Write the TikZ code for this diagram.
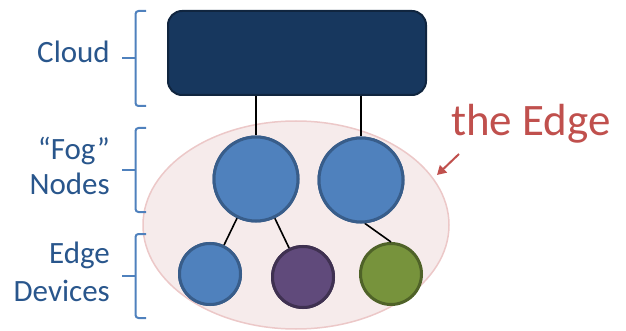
\documentclass[tikz,border=0pt]{standalone}
\usepackage{fontspec}
\setmainfont{Carlito}
\usetikzlibrary{arrows.meta,shapes.geometric}
\definecolor{labelblue}{RGB}{41,86,140}
\definecolor{bracketblue}{RGB}{79,129,189}
\definecolor{navyfill}{RGB}{23,55,94}
\definecolor{navyline}{RGB}{16,37,63}
\definecolor{fogfill}{RGB}{79,129,189}
\definecolor{fogline}{RGB}{56,93,138}
\definecolor{purplefill}{RGB}{96,74,123}
\definecolor{purpleline}{RGB}{63,49,81}
\definecolor{greenfill}{RGB}{119,147,60}
\definecolor{greenline}{RGB}{79,98,40}
\definecolor{zonefill}{RGB}{246,235,235}
\definecolor{zoneline}{RGB}{236,200,200}
\definecolor{edgered}{RGB}{192,80,77}
\tikzset{
  tierlabel/.style={anchor=east, align=right, text=labelblue, inner sep=0pt,
    font=\fontsize{31}{37}\selectfont},
  brace/.style={draw=bracketblue, line width=2pt, rounded corners=3pt},
  bracetip/.style={draw=bracketblue, line width=2pt},
  fognode/.style={circle, draw=fogline, fill=fogfill, line width=3pt, minimum size=84pt, inner sep=0pt},
  devnode/.style={circle, line width=3pt, minimum size=61pt, inner sep=0pt},
  link/.style={draw=black, line width=1.6pt},
}
\begin{document}
\begin{tikzpicture}[x=1pt,y=-1pt]
\useasboundingbox (0,0) rectangle (626,331);
% edge zone
\node[ellipse, draw=zoneline, fill=zonefill, line width=1.5pt,
  minimum width=306pt, minimum height=208pt] (zone) at (296,225) {};
% cloud
\node[rectangle, rounded corners=14pt, draw=navyline, fill=navyfill, line width=2pt,
  minimum width=258pt, minimum height=84pt] (cloud) at (297,53) {};
% fog nodes
\node[fognode] (fogL) at (256,179) {};
\node[fognode] (fogR) at (361,180) {};
% edge devices
\node[devnode, draw=fogline, fill=fogfill] (devA) at (210,274) {};
\node[devnode, draw=purpleline, fill=purplefill] (devB) at (303,277) {};
\node[devnode, draw=greenline, fill=greenfill] (devC) at (391,274) {};
% links
\draw[link] (fogL |- cloud.south) -- (fogL.north);
\draw[link] (fogR |- cloud.south) -- (fogR.north);
\draw[link] (fogL) -- (devA);
\draw[link] (fogL) -- (devB);
\draw[link] (fogR.275) -- (devC.north);
% redraw nodes over the links
\node[fognode] at (fogL) {};
\node[fognode] at (fogR) {};
\node[devnode, draw=fogline, fill=fogfill] at (devA) {};
\node[devnode, draw=purpleline, fill=purplefill] at (devB) {};
% braces: a square bracket with a short stub at its middle
\draw[brace] (146,11) -- (135.5,11) -- (135.5,106) -- (146,106);
\draw[bracetip] (122,58) -- (135.5,58);
\draw[brace] (146,128) -- (135.5,128) -- (135.5,212) -- (146,212);
\draw[bracetip] (122,170) -- (135.5,170);
\draw[brace] (146,234) -- (135.5,234) -- (135.5,318) -- (146,318);
\draw[bracetip] (122,276) -- (135.5,276);
% tier labels
\node[tierlabel, anchor=base east] (lblCloud) at (110,63) {Cloud};
\node[tierlabel, anchor=base east] (lblFog) at (110,160) {“Fog”};
\node[tierlabel, anchor=base east] (lblNodes) at (110,195) {Nodes};
\node[tierlabel, anchor=base east] (lblEdge) at (110,263) {Edge};
\node[tierlabel, anchor=base east] (lblDev) at (110,301) {Devices};
% the Edge annotation
\node[anchor=base west, inner sep=0pt, text=edgered, font=\fontsize{45}{54}\selectfont]
  (edgeLabel) at (451,136) {the Edge};
\coordinate (arrowTail) at (459,154);
\coordinate (arrowTip) at (437,175);
\draw[edgered, line width=2pt, -{Triangle[length=9pt,width=10pt]}] (arrowTail) -- (arrowTip);
\end{tikzpicture}
\end{document}
